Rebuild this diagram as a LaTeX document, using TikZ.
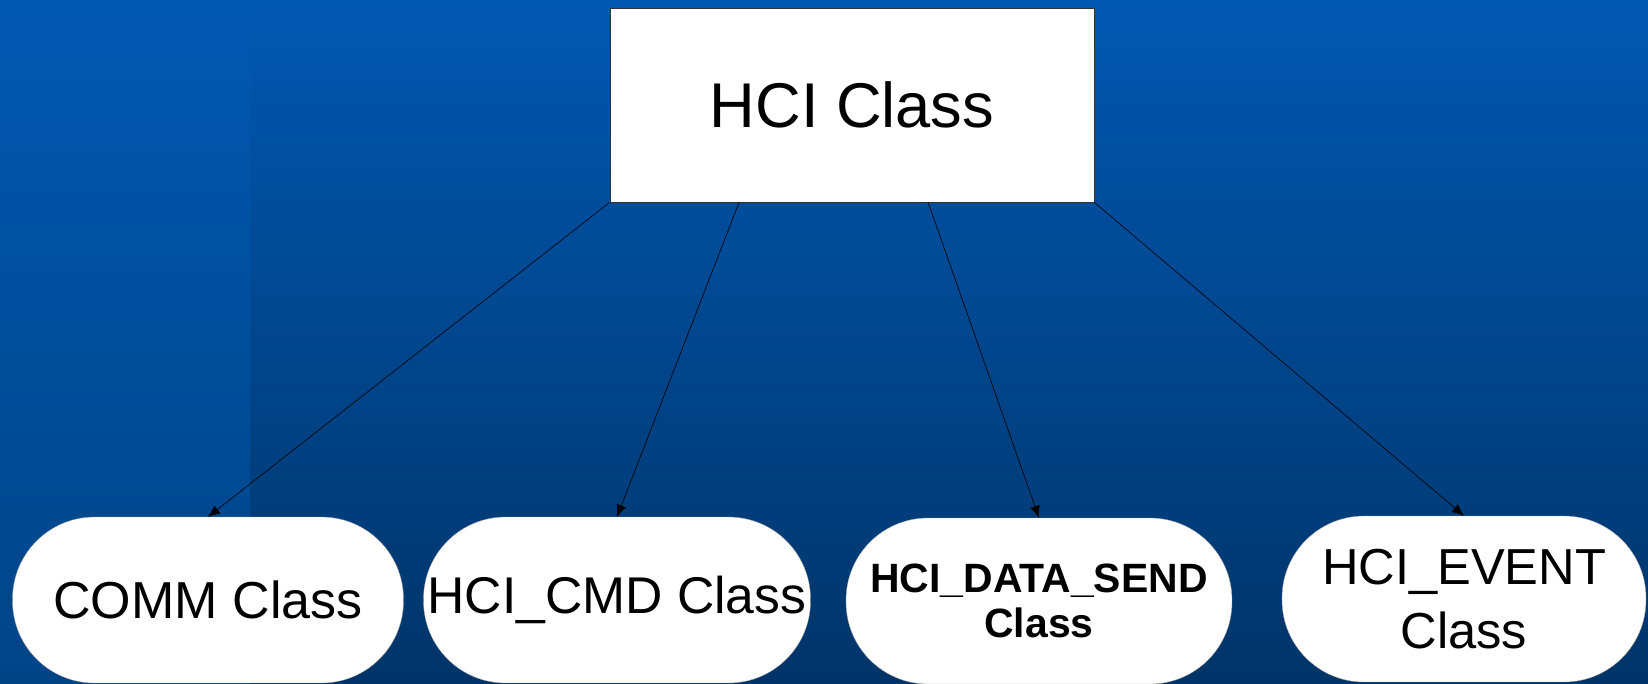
\documentclass[tikz,border=0pt]{standalone}
\usepackage{fontspec}
\setmainfont{Liberation Sans}
\usetikzlibrary{arrows.meta,calc}
\definecolor{fondoarriba}{RGB}{1,88,178}
\definecolor{fondoabajo}{RGB}{0,52,104}
\definecolor{franjaabajo}{RGB}{0,68,134}
\tikzset{
  padre/.style={draw=black!80,line width=0.5pt,fill=white,inner sep=0pt,minimum width=9.68cm,minimum height=3.88cm},
  clase/.style={draw=black!35,line width=0.2pt,fill=white,inner sep=0pt,minimum height=3.32cm,rounded corners=1.64cm,align=center},
  flecha/.style={-{Latex[length=0.24cm,width=0.2cm]},line width=0.35pt,black}
}
\begin{document}
\begin{tikzpicture}[x=0.02cm,y=-0.02cm]
% Fondo con degradado y la franja de la izquierda
\shade[top color=fondoarriba,bottom color=fondoabajo] (0,0) rectangle (1648,683);
\shade[top color=fondoarriba,bottom color=franjaabajo] (0,0) rectangle (250,683);
\useasboundingbox (0,0) rectangle (1648,683);
% Clase padre arriba y las cuatro hijas abajo
\node[padre,font=\fontsize{36}{43}\selectfont] (hci) at (852,105) {HCI Class};
\node[clase,minimum width=7.82cm,font=\fontsize{29.6}{36}\selectfont] (comm) at (208,600) {COMM Class};
\node[clase,minimum width=7.74cm,font=\fontsize{29.4}{36}\selectfont] (cmd) at (617,600) {HCI\_CMD Class};
\node[clase,minimum width=7.72cm,font=\fontsize{23.3}{26}\selectfont\bfseries] (data) at (1039,601) {HCI\_DATA\_SEND\\Class};
\node[clase,minimum width=7.28cm,font=\fontsize{28.8}{36.4}\selectfont] (event) at (1464,599) {HCI\_EVENT\\Class};
% Flechas desde el borde de abajo de la clase padre
\draw[flecha] (hci.south west) -- (comm.north);
\draw[flecha] ($(hci.south west)!0.267!(hci.south east)$) -- (cmd.north);
\draw[flecha] ($(hci.south west)!0.657!(hci.south east)$) -- (data.north);
\draw[flecha] (hci.south east) -- (event.north);
\end{tikzpicture}
\end{document}
